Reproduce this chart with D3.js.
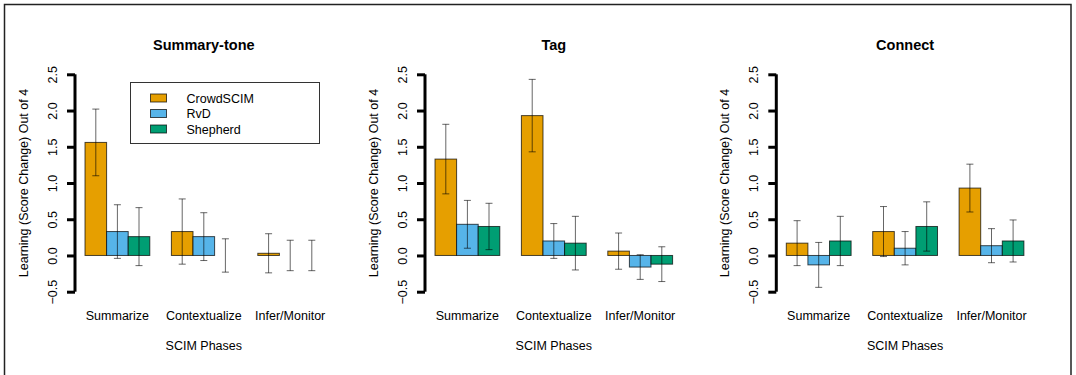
<!DOCTYPE html>
<html>
<head>
<meta charset="utf-8">
<script src="https://cdn.jsdelivr.net/npm/d3@7"></script>
<style>
  body { margin: 0; background: #fff; }
  svg { font-family: "Liberation Sans", Arial, sans-serif; }
</style>
</head>
<body>
<div id="chart"></div>
<script>
const width = 1076
const height = 375

const panels = ["Summary-tone", "Tag", "Connect"]
const phases = ["Summarize", "Contextualize", "Infer/Monitor"]
const series = ["CrowdSCIM", "RvD", "Shepherd"]
const colors = ["#E69F00", "#56B4E9", "#009E73"]
const yTicks = [-0.5, 0, 0.5, 1, 1.5, 2, 2.5]

// mean score change, one row per phase, one value per series
const summaryMeans = [[1.56, 0.33, 0.26], [0.33, 0.26, 0.0], [0.03, 0.0, 0.0]]
const summaryErrors = [[0.46, 0.37, 0.40], [0.45, 0.33, 0.23], [0.27, 0.21, 0.21]]
const tagMeans = [[1.33, 0.43, 0.40], [1.93, 0.20, 0.17], [0.06, -0.16, -0.12]]
const tagErrors = [[0.48, 0.33, 0.32], [0.50, 0.24, 0.37], [0.25, 0.17, 0.24]]
const connectMeans = [[0.17, -0.13, 0.20], [0.33, 0.10, 0.40], [0.93, 0.135, 0.20]]
const connectErrors = [[0.31, 0.31, 0.34], [0.345, 0.23, 0.34], [0.33, 0.235, 0.29]]

const allMeans = [summaryMeans, tagMeans, connectMeans]
const allErrors = [summaryErrors, tagErrors, connectErrors]

// left edge of each plot region, and width of a single bar
const plotLefts = [75.5, 425.5, 776.8]
const unit = 21.6

const svg = d3.select("#chart").append("svg")
  .attr("width", width)
  .attr("height", height)

// outer frame
svg.append("path")
  .attr("d", "M4.5,376 V4.5 H1071 V376")
  .attr("fill", "none")
  .attr("stroke", "#222")
  .attr("stroke-width", 1.5)

const y = d3.scaleLinear().domain([-0.5, 2.5]).range([291.7, 74.3])

panels.forEach(function(title, p) {
  // bars sit at R barplot positions: group g covers units 1+4g .. 4+4g
  let x = d3.scaleLinear()
    .domain([0.56, 12.44])
    .range([plotLefts[p], plotLefts[p] + 11.88 * unit])
  let g = svg.append("g")

  g.append("text")
    .attr("x", x(6.5))
    .attr("y", 50)
    .attr("text-anchor", "middle")
    .attr("font-weight", "bold")
    .attr("font-size", 14.5)
    .text(title)

  // y axis, R style with rotated tick labels
  let axis = g.append("g")
    .attr("transform", "translate(" + (plotLefts[p] - 0.5) + ",0)")
    .call(d3.axisLeft(y).tickValues(yTicks).tickSize(8).tickFormat(d3.format(".1f")))
  axis.select(".domain").attr("stroke-width", 3).attr("d", "M0," + y(-0.5) + "V" + y(2.5))
  axis.selectAll(".tick line").attr("stroke-width", 3)
  axis.selectAll(".tick text")
    .attr("font-size", 12.5)
    .attr("font-family", "Liberation Sans, Arial, sans-serif")
    .attr("x", null).attr("dy", null)
    .attr("text-anchor", "middle")
    .attr("transform", "translate(-18,0) rotate(-90)")

  g.append("text")
    .attr("transform", "translate(" + (plotLefts[p] - 48) + "," + y(1) + ") rotate(-90)")
    .attr("text-anchor", "middle")
    .attr("font-size", 12.5)
    .text("Learning (Score Change) Out of 4")

  let rows = []
  phases.forEach(function(phase, i) {
    series.forEach(function(s, j) {
      rows.push({ phase: i, series: j, mean: allMeans[p][i][j], err: allErrors[p][i][j] })
    })
  })

  g.selectAll("rect.bar")
    .data(rows)
    .enter().append("rect")
    .attr("class", "bar")
    .attr("x", function(d) { return x(1 + 4 * d.phase + d.series) })
    .attr("width", unit)
    .attr("y", function(d) { return y(Math.max(0, d.mean)) })
    .attr("height", function(d) { return Math.abs(y(d.mean) - y(0)) })
    .attr("fill", function(d) { return colors[d.series] })
    .attr("stroke", "rgba(0,0,0,0.7)")
    .attr("stroke-width", 1)

  // error bars with small caps
  let eb = g.selectAll("g.err")
    .data(rows)
    .enter().append("g")
    .attr("class", "err")
    .attr("stroke", "rgba(0,0,0,0.6)")
    .attr("stroke-width", 1)
  eb.append("line")
    .attr("x1", function(d) { return x(1.5 + 4 * d.phase + d.series) })
    .attr("x2", function(d) { return x(1.5 + 4 * d.phase + d.series) })
    .attr("y1", function(d) { return y(d.mean + d.err) })
    .attr("y2", function(d) { return y(d.mean - d.err) })
  ;[1, -1].forEach(function(sign) {
    eb.append("line")
      .attr("x1", function(d) { return x(1.5 + 4 * d.phase + d.series) - 3.5 })
      .attr("x2", function(d) { return x(1.5 + 4 * d.phase + d.series) + 3.5 })
      .attr("y1", function(d) { return y(d.mean + sign * d.err) })
      .attr("y2", function(d) { return y(d.mean + sign * d.err) })
  })

  g.selectAll("text.phase")
    .data(phases)
    .enter().append("text")
    .attr("class", "phase")
    .attr("x", function(d, i) { return x(2.5 + 4 * i) })
    .attr("y", 320)
    .attr("text-anchor", "middle")
    .attr("font-size", 12.5)
    .text(function(d) { return d })

  g.append("text")
    .attr("x", x(6.5))
    .attr("y", 350)
    .attr("text-anchor", "middle")
    .attr("font-size", 12.5)
    .text("SCIM Phases")

  // legend only in the first panel
  if (p === 0) {
    let legend = g.append("g")
    legend.append("rect")
      .attr("x", 130.5).attr("y", 82.5)
      .attr("width", 189).attr("height", 61)
      .attr("fill", "#fff")
      .attr("stroke", "#333")
    series.forEach(function(s, j) {
      legend.append("rect")
        .attr("x", 150.5).attr("y", 94 + j * 15.5)
        .attr("width", 16).attr("height", 8)
        .attr("fill", colors[j])
        .attr("stroke", "rgba(0,0,0,0.7)")
      legend.append("text")
        .attr("x", 186.5).attr("y", 102.5 + j * 15.5)
        .attr("font-size", 12.5)
        .text(s)
    })
  }
})
</script>
</body>
</html>
